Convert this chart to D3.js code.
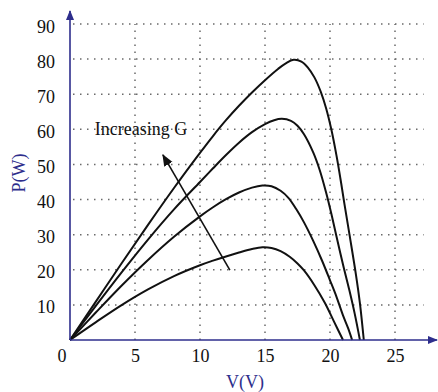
<!DOCTYPE html>
<html>
<head>
<meta charset="utf-8">
<script src="https://cdn.jsdelivr.net/npm/d3@7"></script>
<style>
  html, body { margin: 0; padding: 0; background: #fff; }
  svg { display: block; }
  svg text { font-family: "Liberation Serif", "DejaVu Serif", "Times New Roman", serif; }
</style>
</head>
<body>
<svg id="chart" width="438" height="392"></svg>
<script>
// ---- data ----
const xTicks = [5, 10, 15, 20, 25];
const yTicks = [10, 20, 30, 40, 50, 60, 70, 80, 90];

const v1 = [0, 2, 4, 6, 8, 10, 11, 12, 13, 14, 15, 16, 16.6, 17.2, 17.8, 18.3, 18.8, 19.3, 19.7, 20.1, 20.5, 20.8, 21.1, 21.5, 22.0, 22.3, 22.6];
const p1 = [0, 11, 22, 32.8, 43.3, 53.3, 58.1, 62.6, 66.7, 70.5, 74, 77.2, 78.8, 79.8, 79.3, 77.6, 74.8, 70.6, 66, 60, 52.5, 46, 39, 30, 18.5, 10.5, 0];

const v2 = [0, 2, 4, 6, 8, 10, 11, 12, 13, 14, 15, 15.7, 16.3, 17, 17.5, 18, 18.7, 19.2, 19.7, 20.1, 20.5, 21.0, 21.5, 21.9, 22.3];
const p2 = [0, 9.8, 19.4, 28.6, 37.2, 45, 48.9, 52.7, 56.2, 59.2, 61.5, 62.6, 63, 62.4, 61, 58.6, 53.5, 48.5, 42, 36, 29.5, 21.5, 14, 7.5, 0];

const v3 = [0, 2, 4, 6, 8, 10, 11, 12, 13, 14, 14.8, 15.5, 16.2, 16.8, 17.4, 18, 18.7, 19.4, 20, 20.5, 21.0, 21.4, 21.7];
const p3 = [0, 7.9, 15.6, 22.8, 29.4, 35.2, 37.8, 40.1, 42, 43.4, 44, 43.8, 42.5, 40.5, 37.3, 33.5, 28.3, 22.5, 17, 12.3, 7, 3.3, 0];

const v4 = [0, 2, 4, 6, 8, 10, 11, 12, 13, 14, 14.8, 15.5, 16.2, 16.9, 17.5, 18, 18.8, 19.6, 20.3, 21.0];
const p4 = [0, 5.1, 10, 14.4, 18.2, 21.3, 22.6, 23.8, 24.9, 25.9, 26.4, 26.2, 25.3, 23.7, 21.8, 19.8, 15.6, 10.6, 5.3, 0];

const seriesV = [v1, v2, v3, v4];
const seriesP = [p1, p2, p3, p4];

// annotation arrow (data coordinates): tail -> head
const arrowTail = [12.3, 19.9];
const arrowHead = [7.15, 52.7];
const annoText = "Increasing G";
const annoPos = [1.9, 60];

// ---- drawing ----
const svg = d3.select("#chart");
const axisColor = "#2e2e8c";
const serif = '"Liberation Serif", "DejaVu Serif", "Times New Roman", serif';

const x = d3.scaleLinear().domain([0, 25]).range([70, 395]);
const y = d3.scaleLinear().domain([0, 90]).range([340, 24]);

const defs = svg.append("defs");
defs.append("marker").attr("id", "axArrow").attr("viewBox", "0 0 10 10")
  .attr("refX", 9).attr("refY", 5).attr("markerWidth", 10).attr("markerHeight", 10)
  .attr("markerUnits", "userSpaceOnUse").attr("orient", "auto")
  .append("path").attr("d", "M0,1 L10,5 L0,9 Z").attr("fill", axisColor);
defs.append("marker").attr("id", "blkArrow").attr("viewBox", "0 0 10 10")
  .attr("refX", 9).attr("refY", 5).attr("markerWidth", 12).attr("markerHeight", 12)
  .attr("markerUnits", "userSpaceOnUse").attr("orient", "auto")
  .append("path").attr("d", "M0,1 L10,5 L0,9 Z").attr("fill", "#111");

// grid (dotted)
const grid = svg.append("g");
grid.selectAll("line.h").data(yTicks).join("line").attr("class", "h")
  .attr("x1", x(0) + 3).attr("x2", x(27.2))
  .attr("y1", d => y(d)).attr("y2", d => y(d));
grid.selectAll("line.v").data(xTicks).join("line").attr("class", "v")
  .attr("x1", d => x(d)).attr("x2", d => x(d))
  .attr("y1", y(0)).attr("y2", y(90));
grid.selectAll("line")
  .style("stroke", "#6a6a6a").style("stroke-width", "1.5px")
  .style("stroke-dasharray", "1.5,5.5").style("fill", "none");

// curves
const line = d3.line().x(d => x(d[0])).y(d => y(d[1])).curve(d3.curveCatmullRom.alpha(0.5));
seriesV.forEach((vs, i) => {
  const pts = vs.map((v, j) => [v, seriesP[i][j]]);
  svg.append("path").datum(pts).attr("d", line)
    .attr("fill", "none").attr("stroke", "#111").attr("stroke-width", 2)
    .attr("stroke-linejoin", "round");
});

// axes lines with arrows
svg.append("line").attr("x1", x(0)).attr("y1", y(0)).attr("x2", 437).attr("y2", y(0))
  .attr("stroke", axisColor).attr("stroke-width", 1.6).attr("marker-end", "url(#axArrow)");
svg.append("line").attr("x1", x(0)).attr("y1", y(0)).attr("x2", x(0)).attr("y2", 11)
  .attr("stroke", axisColor).attr("stroke-width", 1.6).attr("marker-end", "url(#axArrow)");

// tick labels via d3 axes
const xAxis = svg.append("g").attr("transform", `translate(0,${y(0)})`)
  .call(d3.axisBottom(x).tickValues(xTicks).tickSize(0).tickPadding(9).tickFormat(d3.format("d")));
const yAxis = svg.append("g").attr("transform", `translate(${x(0)},0)`)
  .call(d3.axisLeft(y).tickValues(yTicks).tickSize(0).tickPadding(15).tickFormat(d3.format("d")));
[xAxis, yAxis].forEach(g => {
  g.attr("font-family", null).attr("font-size", null);
  g.select(".domain").remove();
  g.selectAll("text").style("font-family", serif)
    .style("font-size", "18px").attr("fill", "#111");
});
yAxis.selectAll("text").attr("dy", "0.45em");

svg.append("text").attr("x", x(0) - 8).attr("y", y(0) + 22).attr("text-anchor", "middle")
  .style("font-family", serif).style("font-size", "18px").attr("fill", "#111").text("0");

// axis titles
svg.append("text").attr("x", 245).attr("y", 388).attr("text-anchor", "middle")
  .style("font-family", serif).style("font-size", "18px").attr("fill", axisColor).text("V(V)");
svg.append("text").attr("transform", "translate(25,173) rotate(-90)").attr("text-anchor", "middle")
  .style("font-family", serif).style("font-size", "18px").attr("fill", axisColor).text("P(W)");

// annotation
svg.append("line").attr("x1", x(arrowTail[0])).attr("y1", y(arrowTail[1]))
  .attr("x2", x(arrowHead[0])).attr("y2", y(arrowHead[1]))
  .attr("stroke", "#111").attr("stroke-width", 1.6).attr("marker-end", "url(#blkArrow)");
svg.append("text").attr("x", x(annoPos[0])).attr("y", y(annoPos[1]) + 6)
  .style("font-family", serif).style("font-size", "18px").attr("fill", "#111").text(annoText);
</script>
</body>
</html>
